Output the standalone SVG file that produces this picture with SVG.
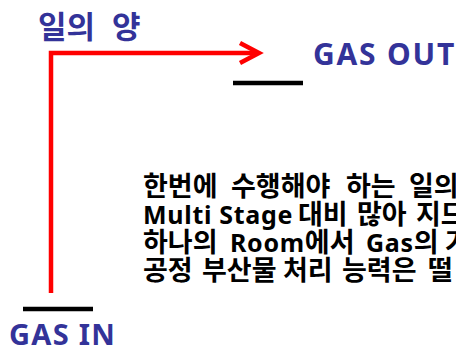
<svg xmlns="http://www.w3.org/2000/svg" width="456" height="351" viewBox="0 0 456 351">
<style>
.lbl{font-family:"Noto Sans","Noto Sans CJK KR",sans-serif;font-weight:bold;fill:#333399}
.body{font-family:"Noto Sans","Noto Sans CJK KR",sans-serif;font-weight:bold;fill:#000;font-size:27px}
.lat{font-size:25px;letter-spacing:0.7px}
.red{stroke:#ff0000;stroke-width:4.5;fill:none}
.bar{stroke:#000;stroke-width:4.5}
</style>
<rect width="456" height="351" fill="#fff"/>
<g id="connectors">
<polyline class="red" points="51,293 51,53 258,53"/>
<polyline class="red" points="240,43 259,53 240,63"/>
</g>
<g id="amount"><text class="lbl" x="38" y="38" font-size="31" word-spacing="9">일의 양</text></g>
<g id="gas-out">
<line class="bar" x1="233" y1="83" x2="303" y2="83"/>
<text class="lbl" x="313" y="65" font-size="30" letter-spacing="1.8">GAS OUT</text>
</g>
<g id="gas-in">
<line class="bar" x1="23" y1="309" x2="93" y2="309"/>
<text class="lbl" x="9" y="345" font-size="29" letter-spacing="1.3">GAS IN</text>
</g>
<g id="desc">
<text class="body" y="196"><tspan x="143">한번에</tspan> <tspan x="231">수행해야</tspan> <tspan x="346">하는</tspan> <tspan x="409">일의</tspan></text>
<text class="body" y="224"><tspan x="143" class="lat">Multi Stage</tspan> <tspan x="298">대비</tspan> <tspan x="357">많아</tspan> <tspan x="416">지므</tspan></text>
<text class="body" y="252"><tspan x="143">하나의</tspan> <tspan x="230"><tspan class="lat">Room</tspan>에서</tspan> <tspan x="366"><tspan class="lat">Gas</tspan>의</tspan> <tspan x="445">가</tspan></text>
<text class="body" y="280"><tspan x="143">공정</tspan> <tspan x="202">부산물</tspan> <tspan x="283">처리</tspan> <tspan x="342">능력은</tspan> <tspan x="428">떨</tspan></text>
</g>
</svg>
